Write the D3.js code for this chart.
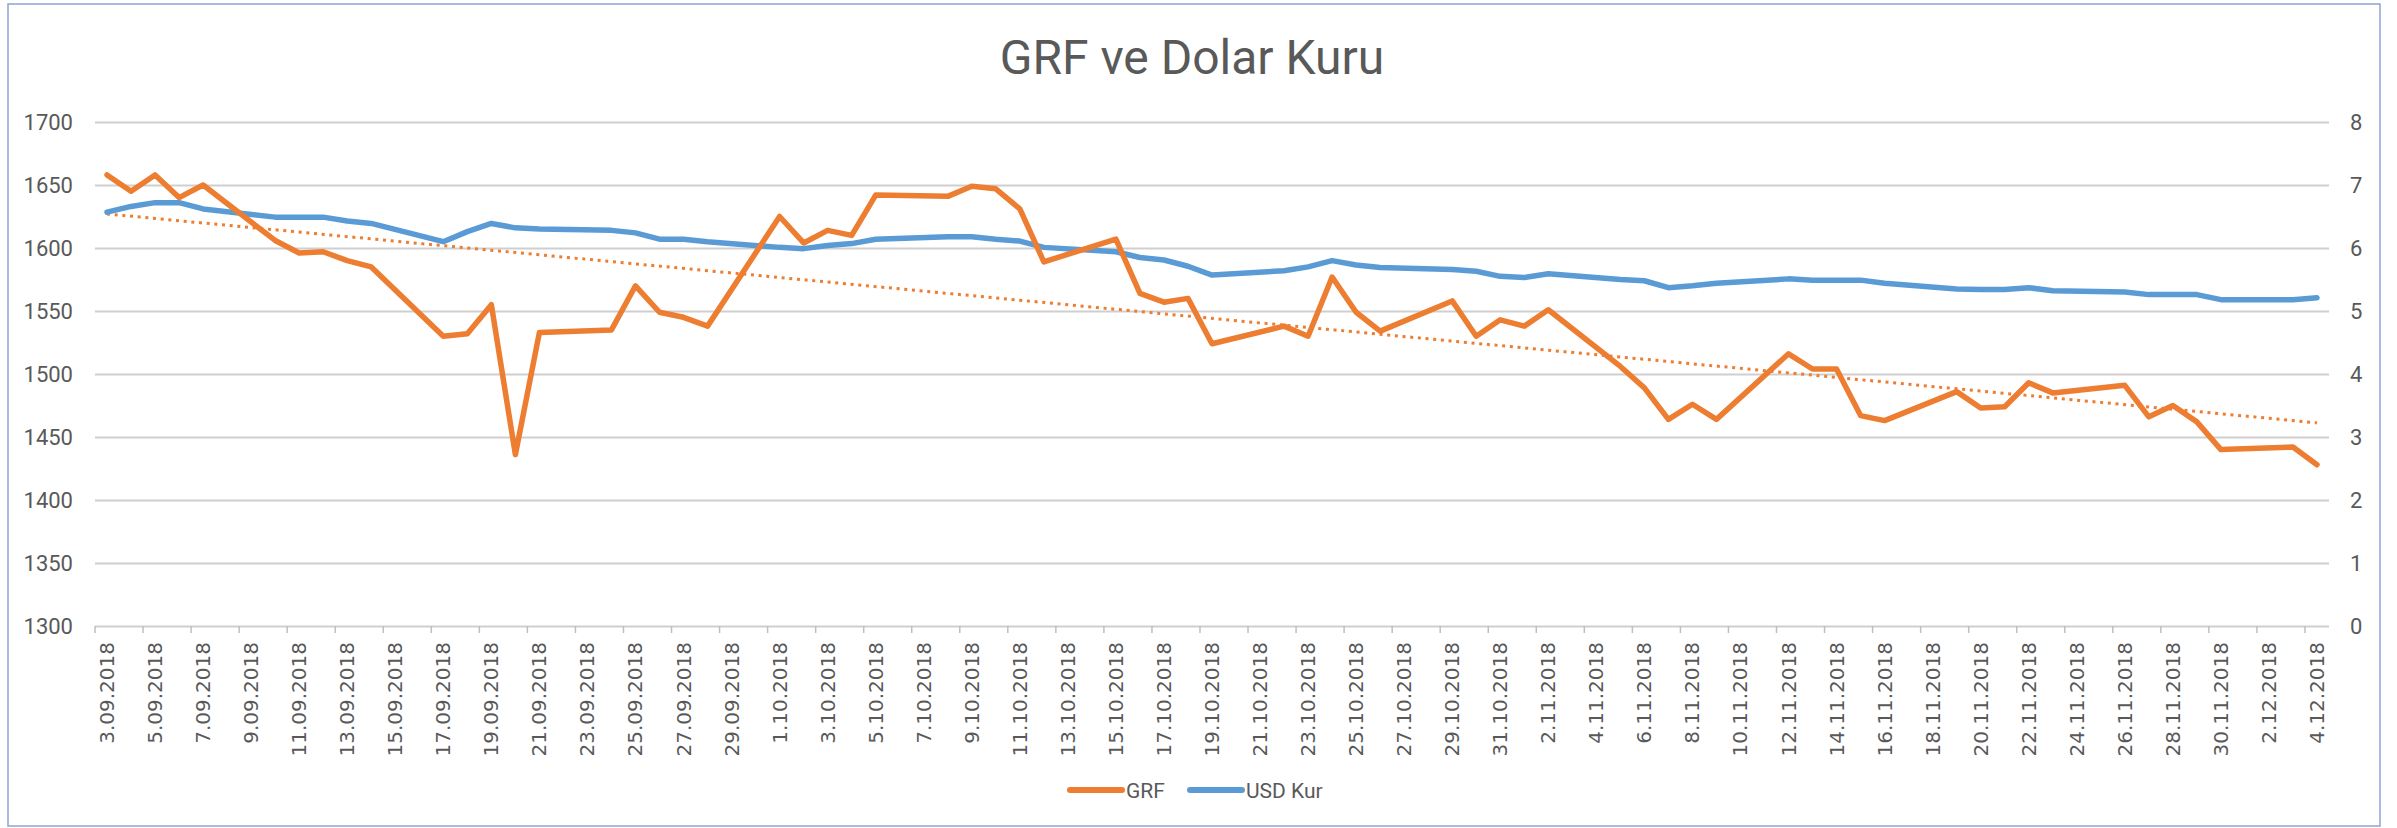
<!DOCTYPE html>
<html>
<head>
<meta charset="utf-8">
<script src="https://cdnjs.cloudflare.com/ajax/libs/d3/7.8.5/d3.min.js"></script>
<style>
  body{ margin:0; background:#fff; }
</style>
</head>
<body>
<div class="chart"></div>
<script>
// business days in the sheet
var dates = [
  "3.09.2018","4.09.2018","5.09.2018","6.09.2018","7.09.2018",
  "10.09.2018","11.09.2018","12.09.2018","13.09.2018","14.09.2018",
  "17.09.2018","18.09.2018","19.09.2018","20.09.2018","21.09.2018",
  "24.09.2018","25.09.2018","26.09.2018","27.09.2018","28.09.2018",
  "1.10.2018","2.10.2018","3.10.2018","4.10.2018","5.10.2018",
  "8.10.2018","9.10.2018","10.10.2018","11.10.2018","12.10.2018",
  "15.10.2018","16.10.2018","17.10.2018","18.10.2018","19.10.2018",
  "22.10.2018","23.10.2018","24.10.2018","25.10.2018","26.10.2018",
  "29.10.2018","30.10.2018","31.10.2018","1.11.2018","2.11.2018",
  "5.11.2018","6.11.2018","7.11.2018","8.11.2018","9.11.2018",
  "12.11.2018","13.11.2018","14.11.2018","15.11.2018","16.11.2018",
  "19.11.2018","20.11.2018","21.11.2018","22.11.2018","23.11.2018",
  "26.11.2018","27.11.2018","28.11.2018","29.11.2018","30.11.2018",
  "3.12.2018","4.12.2018"
];

var grf = [
  1658, 1645, 1658, 1640, 1650,
  1606, 1596, 1597, 1590, 1585,
  1530, 1532, 1555, 1436, 1533,
  1535, 1570, 1549, 1545, 1538,
  1625, 1604, 1614, 1610, 1642,
  1641, 1649, 1647, 1631, 1589,
  1607, 1564, 1557, 1560, 1524,
  1538, 1530, 1577, 1549, 1534,
  1558, 1530, 1543, 1538, 1551,
  1506, 1489, 1464, 1476, 1464,
  1516, 1504, 1504, 1467, 1463,
  1486, 1473, 1474, 1493, 1485,
  1491, 1466, 1475, 1462, 1440,
  1442, 1428
];

var usd = [
  6.57, 6.66, 6.72, 6.72, 6.62,
  6.49, 6.49, 6.49, 6.43, 6.39,
  6.10, 6.26, 6.39, 6.32, 6.30,
  6.28, 6.24, 6.14, 6.14, 6.10,
  6.01, 5.99, 6.04, 6.07, 6.14,
  6.18, 6.18, 6.14, 6.11, 6.01,
  5.94, 5.85, 5.81, 5.71, 5.57,
  5.64, 5.70, 5.80, 5.73, 5.69,
  5.66, 5.63, 5.55, 5.53, 5.59,
  5.50, 5.48, 5.37, 5.40, 5.44,
  5.51, 5.49, 5.49, 5.49, 5.44,
  5.35, 5.34, 5.34, 5.37, 5.32,
  5.30, 5.26, 5.26, 5.26, 5.18,
  5.18, 5.21
];

var leftTicks = [1300, 1350, 1400, 1450, 1500, 1550, 1600, 1650, 1700];
var rightTicks = [0, 1, 2, 3, 4, 5, 6, 7, 8];

var seriesNames = ["GRF", "USD Kur"];
var title = "GRF ve Dolar Kuru";

function init(){
  var w = 2397;
  var h = 828;
  var left = 95, right = 2329, top = 122, bottom = 626;

  var parse = d3.timeParse("%d.%m.%Y");
  var fmt = d3.timeFormat("%-d.%m.%Y");
  var first = parse(dates[0]);
  var last = parse(dates[dates.length - 1]);

  // every calendar day is a slot on the axis (Excel date axis)
  var allDays = d3.timeDay.range(first, d3.timeDay.offset(last, 1)).map(fmt);
  var labelDays = allDays.filter(function(d, i){ return i % 2 == 0; });

  var svg = d3.select(".chart")
              .append("svg")
              .attr("width", w)
              .attr("height", h)
              .style("display", "block");

  svg.append("rect")
      .attr("x", 8)
      .attr("y", 4)
      .attr("width", 2372)
      .attr("height", 822)
      .attr("fill", "#fff")
      .attr("stroke", "#8FA3D3")
      .attr("stroke-width", 1.5);

  var x = d3.scaleBand()
            .domain(allDays)
            .range([left, right])
            .padding(0);
  var bw = x.bandwidth();

  var yL = d3.scaleLinear()
             .domain([1300, 1700])
             .range([bottom, top]);

  var yR = d3.scaleLinear()
             .domain([0, 8])
             .range([bottom, top]);

  // left axis with gridlines
  var leftAxis = d3.axisLeft(yL)
                   .tickValues(leftTicks)
                   .tickFormat(d3.format("d"))
                   .tickSize(-(right - left))
                   .tickPadding(22);

  var gL = svg.append("g")
              .attr("transform", "translate(" + left + ",0)")
              .call(leftAxis);
  gL.select(".domain").remove();
  gL.selectAll("line")
      .attr("stroke", "#CFCFCF")
      .attr("stroke-width", 2);
  gL.selectAll("text")
      .style("font-family", "Roboto")
      .style("font-size", "22px")
      .attr("fill", "#595959");

  var rightAxis = d3.axisRight(yR)
                    .tickValues(rightTicks)
                    .tickFormat(d3.format("d"))
                    .tickSize(0)
                    .tickPadding(21);

  var gR = svg.append("g")
              .attr("transform", "translate(" + right + ",0)")
              .call(rightAxis);
  gR.select(".domain").remove();
  gR.selectAll("text")
      .style("font-family", "Roboto")
      .style("font-size", "22px")
      .attr("fill", "#595959");

  // x axis: ticks on slot edges, labels in slot centres
  svg.append("g")
      .selectAll("line")
      .data(labelDays)
      .join("line")
        .attr("x1", function(d){ return x(d); })
        .attr("x2", function(d){ return x(d); })
        .attr("y1", bottom)
        .attr("y2", bottom + 7)
        .attr("stroke", "#BFBFBF")
        .attr("stroke-width", 1.5);

  svg.append("g")
      .selectAll("text")
      .data(labelDays)
      .join("text")
        .attr("transform", function(d){
          return "translate(" + (x(d) + bw / 2) + "," + (bottom + 16) + ") rotate(-90)";
        })
        .attr("text-anchor", "end")
        .attr("dy", "0.35em")
        .style("font-family", "DejaVu Sans")
        .style("font-size", "20px")
        .attr("fill", "#595959")
        .text(function(d){ return d; });

  var px = function(d, i){ return x(dates[i]) + bw / 2; };

  // linear trendline of GRF
  var dayIdx = dates.map(function(d){ return allDays.indexOf(d); });
  var mx = d3.mean(dayIdx), my = d3.mean(grf);
  var sxy = d3.sum(dayIdx, function(d, i){ return (d - mx) * (grf[i] - my); });
  var sxx = d3.sum(dayIdx, function(d){ return (d - mx) * (d - mx); });
  var slope = sxy / sxx;
  var icpt = my - slope * mx;
  var trend = [dates[0], dates[dates.length - 1]];

  svg.append("line")
      .attr("x1", x(trend[0]) + bw / 2)
      .attr("x2", x(trend[1]) + bw / 2)
      .attr("y1", yL(icpt + slope * dayIdx[0]))
      .attr("y2", yL(icpt + slope * dayIdx[dayIdx.length - 1]))
      .attr("stroke", "#ED7D31")
      .attr("stroke-width", 3)
      .attr("stroke-dasharray", "3 4.7");

  var lineL = d3.line().x(px).y(function(d){ return yL(d); });
  var lineR = d3.line().x(px).y(function(d){ return yR(d); });

  svg.append("path")
      .datum(usd)
      .attr("d", lineR)
      .attr("fill", "none")
      .attr("stroke", "#5B9BD5")
      .attr("stroke-width", 5.5)
      .attr("stroke-linejoin", "round")
      .attr("stroke-linecap", "round");

  svg.append("path")
      .datum(grf)
      .attr("d", lineL)
      .attr("fill", "none")
      .attr("stroke", "#ED7D31")
      .attr("stroke-width", 5.5)
      .attr("stroke-linejoin", "round")
      .attr("stroke-linecap", "round");

  // title
  svg.append("text")
      .attr("x", 1192)
      .attr("y", 74)
      .attr("text-anchor", "middle")
      .style("font-family", "Roboto")
      .style("font-size", "48px")
      .attr("fill", "#595959")
      .text(title);

  // legend
  var legend = [
    {name: seriesNames[0], color: "#ED7D31", x: 1068},
    {name: seriesNames[1], color: "#5B9BD5", x: 1188}
  ];
  var lg = svg.append("g")
              .selectAll("g")
              .data(legend)
              .join("g")
                .attr("transform", function(d){ return "translate(" + d.x + ",790)"; });
  lg.append("line")
      .attr("x1", 2)
      .attr("x2", 54)
      .attr("stroke", function(d){ return d.color; })
      .attr("stroke-width", 6)
      .attr("stroke-linecap", "round");
  lg.append("text")
      .attr("x", 58)
      .attr("dy", "0.36em")
      .style("font-family", "Roboto")
      .style("font-size", "21px")
      .attr("fill", "#595959")
      .text(function(d){ return d.name; });
}

window.onload = init;
</script>
</body>
</html>
